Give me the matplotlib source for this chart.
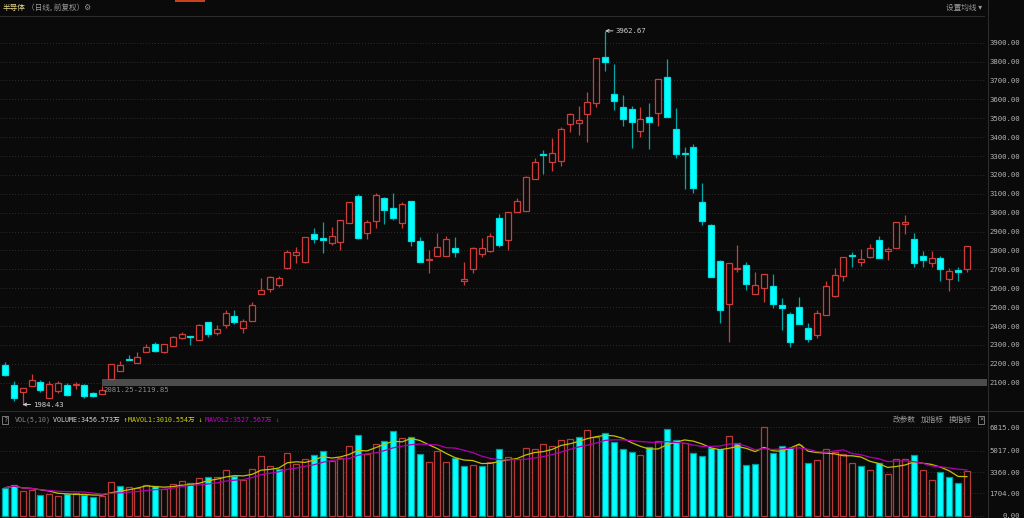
import numpy as np
import matplotlib.pyplot as plt
import pandas as pd
from matplotlib.lines import Line2D
from matplotlib.patches import Rectangle

# daily OHLC (110 sessions)
opens = [2193.7, 2087.8, 2052.5, 2084.3, 2103.7, 2020.7, 2056.0, 2086.0, 2089.6, 2087.8,
         2045.4, 2040.1, 2121.3, 2160.2, 2223.7, 2202.5, 2260.7, 2303.1, 2262.5, 2296.0,
         2336.6, 2345.4, 2327.8, 2419.6, 2364.9, 2405.4, 2453.1, 2387.8, 2424.9, 2567.8,
         2597.8, 2617.2, 2709.0, 2777.8, 2737.2, 2889.0, 2864.3, 2841.4, 2844.9, 2947.2,
         3086.7, 2894.3, 2957.8, 3079.6, 3026.6, 2947.2, 3060.2, 2850.2, 2747.8, 2770.8,
         2772.5, 2814.9, 2640.2, 2701.9, 2779.6, 2797.2, 2971.9, 2857.2, 3001.9, 3010.8,
         3178.5, 3309.0, 3270.2, 3275.5, 3471.4, 3476.7, 3520.8, 3582.6, 3822.6, 3630.2,
         3561.4, 3547.3, 3432.6, 3508.4, 3529.6, 3718.5, 3441.4, 3316.1, 3349.6, 3056.6,
         2936.6, 2744.3, 2516.6, 2700.2, 2723.1, 2571.3, 2599.6, 2611.9, 2511.3, 2463.7,
         2502.5, 2387.8, 2352.5, 2460.2, 2559.0, 2666.6, 2776.1, 2737.2, 2767.2, 2853.7,
         2795.5, 2813.1, 2941.9, 2860.7, 2772.5, 2731.9, 2758.4, 2647.2, 2696.6, 2700.2]
highs = [2207.8, 2110.7, 2073.7, 2144.3, 2114.3, 2107.2, 2107.2, 2096.6, 2103.7, 2093.1,
         2052.5, 2081.25, 2199.0, 2214.9, 2246.6, 2260.7, 2303.1, 2313.7, 2306.6, 2345.4,
         2366.6, 2345.4, 2409.0, 2423.1, 2403.7, 2483.1, 2483.1, 2437.2, 2527.2, 2652.5,
         2663.1, 2663.1, 2802.5, 2816.6, 2871.0, 2919.0, 2950.8, 2926.1, 2961.0, 3056.6,
         3097.2, 2959.6, 3102.5, 3081.4, 3104.3, 3054.9, 3061.9, 2869.6, 2802.5, 2890.8,
         2876.6, 2871.4, 2740.8, 2818.0, 2867.8, 2890.8, 2994.9, 3005.0, 3076.1, 3194.0,
         3287.8, 3332.0, 3395.5, 3452.0, 3526.1, 3564.9, 3640.8, 3819.0, 3962.67, 3785.5,
         3621.4, 3564.9, 3561.4, 3582.6, 3708.0, 3812.0, 3556.1, 3349.6, 3362.0, 3159.0,
         2942.0, 2749.6, 2735.5, 2829.0, 2737.2, 2687.8, 2675.5, 2673.7, 2548.4, 2474.3,
         2555.5, 2417.8, 2484.9, 2638.4, 2705.5, 2765.5, 2790.2, 2807.8, 2832.5, 2876.6,
         2820.2, 2950.8, 2986.1, 2894.3, 2799.0, 2799.0, 2772.5, 2707.2, 2714.3, 2823.6]
lows = [2137.2, 2004.9, 1984.43, 2084.3, 2052.5, 2020.7, 2047.2, 2029.5, 2068.4, 2017.2,
        2022.5, 2040.1, 2119.85, 2160.2, 2218.4, 2202.5, 2260.7, 2262.5, 2259.0, 2296.0,
        2333.1, 2299.6, 2327.8, 2343.7, 2354.3, 2391.3, 2410.7, 2364.9, 2424.9, 2567.8,
        2578.4, 2606.6, 2700.2, 2735.5, 2735.5, 2841.4, 2788.4, 2829.0, 2802.5, 2947.2,
        2860.8, 2860.8, 2920.8, 2941.9, 2961.4, 2919.0, 2825.5, 2739.0, 2682.5, 2770.8,
        2772.5, 2765.5, 2617.2, 2679.0, 2763.7, 2793.7, 2816.6, 2802.5, 3001.9, 3009.0,
        3176.7, 3204.9, 3222.6, 3249.0, 3429.0, 3411.4, 3376.1, 3561.4, 3752.0, 3543.7,
        3459.0, 3340.8, 3402.6, 3339.0, 3459.0, 3506.6, 3287.8, 3125.5, 3102.5, 2936.6,
        2661.3, 2417.8, 2313.7, 2687.8, 2590.8, 2571.3, 2529.0, 2493.7, 2379.0, 2290.8,
        2410.7, 2315.5, 2336.6, 2458.4, 2555.5, 2640.2, 2710.8, 2717.8, 2761.9, 2758.4,
        2749.6, 2811.4, 2887.2, 2714.3, 2714.3, 2714.3, 2636.6, 2585.4, 2640.2, 2687.8]
closes = [2140.7, 2017.2, 2070.1, 2114.3, 2061.3, 2093.1, 2098.4, 2033.0, 2093.1, 2031.3,
          2029.5, 2059.6, 2197.2, 2193.7, 2218.4, 2234.3, 2289.0, 2267.8, 2303.1, 2341.9,
          2356.0, 2341.9, 2407.2, 2357.8, 2384.3, 2469.0, 2421.3, 2426.6, 2509.6, 2589.0,
          2657.8, 2654.3, 2790.2, 2792.0, 2869.6, 2859.0, 2855.5, 2874.9, 2959.6, 3054.9,
          2866.1, 2952.5, 3091.9, 3012.5, 2973.7, 3046.1, 2852.0, 2739.0, 2753.1, 2816.6,
          2859.0, 2793.7, 2649.0, 2814.9, 2811.4, 2874.9, 2829.0, 3001.9, 3061.9, 3190.8,
          3266.7, 3305.5, 3316.1, 3444.9, 3520.8, 3490.8, 3587.8, 3817.3, 3797.8, 3589.6,
          3497.8, 3478.4, 3496.1, 3478.4, 3706.1, 3508.4, 3309.0, 3312.6, 3129.0, 2957.8,
          2661.3, 2486.6, 2733.7, 2707.2, 2620.8, 2617.0, 2673.7, 2516.6, 2493.7, 2313.7,
          2410.7, 2329.6, 2467.2, 2611.9, 2668.4, 2763.7, 2772.5, 2754.9, 2814.9, 2761.9,
          2807.8, 2949.0, 2952.5, 2735.4, 2747.8, 2758.4, 2700.2, 2689.6, 2687.8, 2821.9]
# volume in 万
volumes = [2154, 2386, 1871, 1974, 1587, 1664, 1509, 1664, 1716, 1612,
           1406, 1509, 2567, 2258, 2200, 2103, 2335, 2283, 2051, 2413,
           2645, 2516, 2877, 3006, 3006, 3496, 3057, 2748, 3625, 4605,
           3806, 3573, 4812, 3986, 4373, 4657, 4967, 4244, 4425, 5354,
           6231, 4734, 5508, 5741, 6540, 5973, 6050, 4734, 4115, 4992,
           4115, 4425, 3831, 3883, 3857, 4167, 5147, 4502, 4347, 5250,
           5121, 5508, 5354, 5869, 5895, 6050, 6592, 6102, 6386, 5689,
           5121, 4889, 4683, 5328, 5741, 6721, 5869, 5586, 4863, 4631,
           5199, 5173, 6128, 5586, 3883, 3960, 6824, 4812, 5354, 5199,
           5457, 4063, 4296, 5147, 4889, 4734, 4038, 3806, 3522, 4038,
           3200, 4400, 4400, 4700, 3523, 2730, 3370, 2950, 2546, 3456.573]

price_ticks = list(range(2100, 4000, 100))
vol_ticks = [0, 1704, 3360, 5017, 6815]

BG = '#0a0a0a'
RED = '#cf3d3a'
RED_V = '#b83a38'
CYAN = '#00ffff'
TEAL = '#00a9a9'
GRID = '#3a3a3a'
TXT = '#b4b4b4'
MONO = ['DejaVu Sans Mono', 'Noto Sans CJK SC']
CJK = ['Noto Sans CJK SC', 'DejaVu Sans']

o = np.array(opens); h = np.array(highs); l = np.array(lows); c = np.array(closes)
v = np.array(volumes, dtype=float)
x = np.arange(len(c))
up = c >= o
vol_up = np.r_[False, c[1:] >= c[:-1]]

fig = plt.figure(figsize=(10.24, 5.18), dpi=100, facecolor=BG)

def fx(px):
    return px / 1024

def fy(py):
    return 1 - py / 518

ax = fig.add_axes([0, fy(410), fx(986), fy(17) - fy(410)], facecolor=BG)
axv = fig.add_axes([0, 0, fx(986), fy(426)], facecolor=BG)

for a in (ax, axv):
    for s in a.spines.values():
        s.set_visible(False)
    a.set_xlim(-0.57, 111.16)
    a.set_xticks([])
    a.yaxis.tick_right()
    a.tick_params(axis='y', length=0, pad=24.5, labelsize=5.2, labelcolor=TXT)
    a.grid(axis='y', color=GRID, linestyle=(0, (1, 2.5)), linewidth=0.6)
    a.set_axisbelow(True)

# price panel
ax.set_ylim(1955.5, 4036)
ax.set_yticks(price_ticks)
ax.set_yticklabels([f'{t:.2f}' for t in price_ticks])

body_lo = np.minimum(o, c)
body_hi = np.maximum(o, c)
wick_col = np.where(up, RED, TEAL)
ax.vlines(x, l, body_lo, colors=wick_col, linewidth=0.9, zorder=2)
ax.vlines(x, body_hi, h, colors=wick_col, linewidth=0.9, zorder=2)
ax.bar(x, np.maximum(body_hi - body_lo, 1.5), bottom=body_lo, width=0.68,
       facecolor=np.where(up, BG, CYAN), edgecolor=np.where(up, RED, '#00e0e0'),
       linewidth=0.9, zorder=3)

# unfilled gap band
ax.fill_between([11, 112], 2081.25, 2119.85, color='#4c4c4c', linewidth=0, zorder=1)
ax.text(11.2, 2078, '2081.25-2119.85', color='#8c8c8c', fontsize=5.2,
        family=MONO, va='top', ha='left')

ax.annotate('3962.67', xy=(68, 3962.67), xytext=(69.2, 3962.67), color='#d0d0d0',
            fontsize=5.2, family=MONO, va='center', ha='left',
            arrowprops=dict(arrowstyle='->', color='#d0d0d0', lw=0.7,
                            shrinkA=0, shrinkB=0))
ax.annotate('1984.43', xy=(2, 1984.43), xytext=(3.2, 1984.43), color='#d0d0d0',
            fontsize=5.2, family=MONO, va='center', ha='left',
            arrowprops=dict(arrowstyle='->', color='#d0d0d0', lw=0.7,
                            shrinkA=0, shrinkB=0))

# volume panel
axv.set_ylim(-193, 6927)
axv.set_yticks(vol_ticks)
axv.set_yticklabels([f'{t:.2f}' for t in vol_ticks])
axv.bar(x, v, width=0.68, facecolor=np.where(vol_up, BG, CYAN),
        edgecolor=np.where(vol_up, RED_V, '#009a9a'), linewidth=0.9, zorder=2)
ma5 = pd.Series(v).rolling(5, min_periods=1).mean()
ma10 = pd.Series(v).rolling(10, min_periods=1).mean()
axv.plot(x, ma5, color='#c2c200', linewidth=0.9, zorder=4)
axv.plot(x, ma10, color='#b000b0', linewidth=0.9, zorder=4)

for a in (ax, axv):
    for lab in a.get_yticklabels():
        lab.set_ha('right')
        lab.set_family(MONO)

# frame lines
for (x0, y0, x1, y1) in [(0, 16, 984, 16), (0, 411, 1024, 411), (988, 0, 988, 518)]:
    fig.add_artist(Line2D([fx(x0), fx(x1)], [fy(y0), fy(y1)], color='#2c2c2c',
                          linewidth=0.8, transform=fig.transFigure))
fig.add_artist(Rectangle((fx(175), fy(2)), fx(30), 2 / 518, color='#c8421e',
                         transform=fig.transFigure, linewidth=0))

# header texts
fig.text(fx(3), fy(8), '半导体', color='#e6d78a', fontsize=5.5, family=CJK, va='center')
fig.text(fx(27), fy(8), '（日线, 前复权）⚙', color='#9a9a9a', fontsize=5.5, family=CJK,
         va='center')
fig.text(fx(982), fy(8), '设置均线 ▾', color='#9a9a9a', fontsize=5.5, family=CJK,
         va='center', ha='right')

fig.text(fx(3), fy(420), '?', color='#9a9a9a', fontsize=5, family=MONO, va='center',
         bbox=dict(boxstyle='square,pad=0.15', fc=BG, ec='#8a8a8a', lw=0.6))
fig.text(fx(15), fy(420), 'VOL(5,10)', color='#8a8a8a', fontsize=4.8, family=MONO,
         va='center')
fig.text(fx(53), fy(420), 'VOLUME:3456.573万 ↑', color='#d8d8d8', fontsize=4.8,
         family=MONO, va='center')
fig.text(fx(128), fy(420), 'MAVOL1:3010.554万 ↓', color='#d6d600', fontsize=4.8,
         family=MONO, va='center')
fig.text(fx(205), fy(420), 'MAVOL2:3527.567万 ↓', color='#d000d0', fontsize=4.8,
         family=MONO, va='center')
fig.text(fx(893), fy(420), '改参数', color='#9a9a9a', fontsize=5.5, family=CJK, va='center')
fig.text(fx(921), fy(420), '加指标', color='#9a9a9a', fontsize=5.5, family=CJK, va='center')
fig.text(fx(949), fy(420), '换指标', color='#9a9a9a', fontsize=5.5, family=CJK, va='center')
fig.text(fx(979), fy(420), '×', color='#9a9a9a', fontsize=5, family=MONO, va='center',
         bbox=dict(boxstyle='square,pad=0.1', fc=BG, ec='#8a8a8a', lw=0.6))

fig.savefig('out.png', dpi=100, facecolor=BG)
